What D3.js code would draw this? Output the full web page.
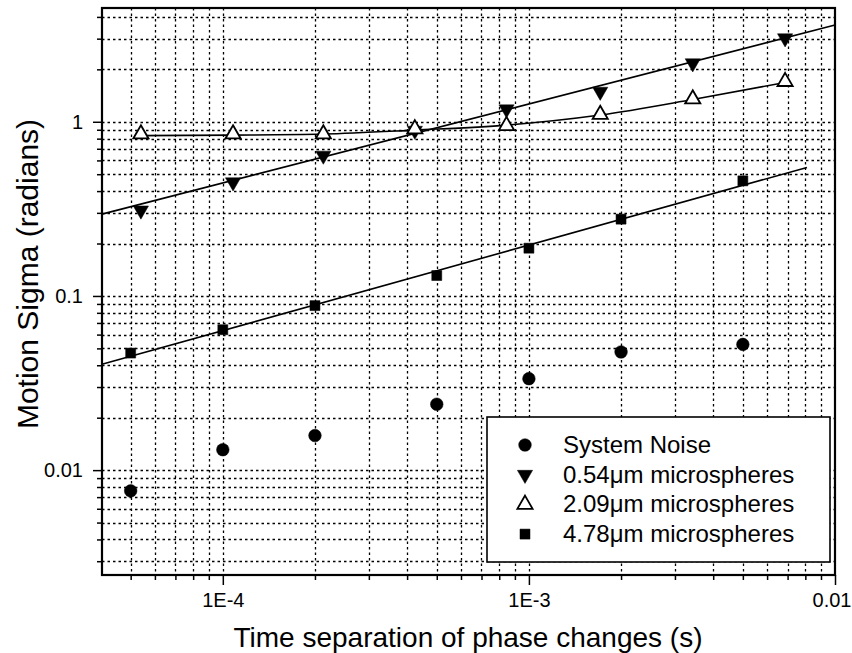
<!DOCTYPE html>
<html>
<head>
<meta charset="utf-8">
<script src="https://cdn.jsdelivr.net/npm/d3@7"></script>
<style>
  body { margin: 0; background: #fff; }
  svg { display: block; }
  text { font-family: "Liberation Sans", Arial, sans-serif; fill: #000; }
</style>
</head>
<body>
<svg id="chart" width="852" height="653"></svg>
<script>
// time separations (s)
var timeNoise = [5e-5, 1e-4, 2e-4, 5e-4, 1e-3, 2e-3, 5e-3];
var timeSpheres = [5.4e-5, 1.08e-4, 2.13e-4, 4.24e-4, 8.45e-4, 1.71e-3, 3.43e-3, 6.87e-3];

// motion sigma (radians)
var sysNoise = [0.0076, 0.0131, 0.0158, 0.0239, 0.0335, 0.0477, 0.0527];
var sph054 = [0.31, 0.45, 0.64, 0.89, 1.18, 1.49, 2.17, 3.02];
var sph209 = [0.85, 0.85, 0.85, 0.91, 0.95, 1.1, 1.35, 1.7];
var sph478 = [0.047, 0.064, 0.088, 0.131, 0.188, 0.276, 0.458];

// fitted curves
var fit054T = [4.03e-5, 1e-2];
var fit054V = [0.295, 3.59];
var fit209T = [5.4e-5, 1.08e-4, 2.13e-4, 4.24e-4, 8.45e-4, 1.71e-3, 3.43e-3, 6.87e-3];
var fit209V = [0.833, 0.838, 0.85, 0.896, 0.957, 1.093, 1.342, 1.68];
var fit478T = [4.03e-5, 8.1e-3];
var fit478V = [0.0405, 0.547];

var xTickVals = [1e-4, 1e-3, 1e-2];
var xTickLabels = ["1E-4", "1E-3", "0.01"];
var yTickVals = [0.01, 0.1, 1];
var yTickLabels = ["0.01", "0.1", "1"];

var legendNames = ["System Noise", "0.54\u03bcm microspheres", "2.09\u03bcm microspheres", "4.78\u03bcm microspheres"];

var LEFT = 102, RIGHT = 835, TOP = 8, BOTTOM = 575;

var svg = d3.select('#chart');

var x = d3.scaleLog().domain([4.03e-5, 0.01]).range([LEFT, RIGHT]);
var y = d3.scaleLog().domain([0.0025, 4.5]).range([BOTTOM, TOP]);

function isMajor(v) {
  var l = Math.log10(v);
  return Math.abs(l - Math.round(l)) < 1e-6;
}

// every 1..9 x 10^n inside the box; the grid skips the ones on the frame
var xAll = x.ticks().filter(function(d){ return d > x.domain()[0] * 1.001 && d <= x.domain()[1] * 1.001; });
var yAll = y.ticks().filter(function(d){ return d > y.domain()[0] * 1.001 && d < y.domain()[1] * 0.999; });
var xGrid = xAll.filter(function(d){ return d < x.domain()[1] * 0.999; });

// dotted grid
var grid = svg.append('g').attr('stroke', '#000').attr('stroke-width', 1.3).attr('stroke-dasharray', '2.5,3');
grid.selectAll('line.gx').data(xGrid).enter().append('line')
  .attr('x1', function(d){ return Math.round(x(d)) + 0.5; })
  .attr('x2', function(d){ return Math.round(x(d)) + 0.5; })
  .attr('y1', TOP).attr('y2', BOTTOM);
grid.selectAll('line.gy').data(yAll).enter().append('line')
  .attr('y1', function(d){ return Math.round(y(d)) + 0.5; })
  .attr('y2', function(d){ return Math.round(y(d)) + 0.5; })
  .attr('x1', LEFT).attr('x2', RIGHT);

// axes
var bottomAxis = d3.axisBottom(x).tickValues(xAll).tickSize(5).tickPadding(13)
  .tickFormat(function(d){ var i = xTickVals.findIndex(function(v){ return Math.abs(v - d) / v < 1e-6; }); return i >= 0 ? xTickLabels[i] : ''; });
var gx = svg.append('g').attr('transform', 'translate(0,' + BOTTOM + ')').call(bottomAxis);
gx.select('.domain').remove();
gx.selectAll('.tick line').attr('stroke-width', 1.5).attr('y2', function(d){ return isMajor(d) ? 10 : 5; });
gx.selectAll('.tick text').style('font-size', '20px');
// last label sits on the right edge, keep it inside the page
gx.selectAll('.tick text').filter(function(d){ return d >= x.domain()[1] * 0.999; })
  .attr('text-anchor', 'end').attr('x', 16);

var leftAxis = d3.axisLeft(y).tickValues(yAll).tickSize(5).tickPadding(7)
  .tickFormat(function(d){ var i = yTickVals.findIndex(function(v){ return Math.abs(v - d) / v < 1e-6; }); return i >= 0 ? yTickLabels[i] : ''; });
var gy = svg.append('g').attr('transform', 'translate(' + LEFT + ',0)').call(leftAxis);
gy.select('.domain').remove();
gy.selectAll('.tick line').attr('stroke-width', 1.5).attr('x2', function(d){ return isMajor(d) ? -9 : -5; });
gy.selectAll('.tick text').attr('x', -19).style('font-size', '20px');

// frame
svg.append('rect').attr('x', LEFT).attr('y', TOP).attr('width', RIGHT - LEFT).attr('height', BOTTOM - TOP)
  .attr('fill', 'none').attr('stroke', '#000').attr('stroke-width', 2.2);

// fitted lines
var line = d3.line().x(function(d){ return x(d[0]); }).y(function(d){ return y(d[1]); });
var curve = d3.line().x(function(d){ return x(d[0]); }).y(function(d){ return y(d[1]); }).curve(d3.curveMonotoneX);
var fits = svg.append('g').attr('fill', 'none').attr('stroke', '#000').attr('stroke-width', 1.6);
fits.append('path').attr('d', line(d3.zip(fit054T, fit054V)));
fits.append('path').attr('d', curve(d3.zip(fit209T, fit209V)));
fits.append('path').attr('d', line(d3.zip(fit478T, fit478V)));

// markers
var circ = d3.symbol().type(d3.symbolCircle).size(125);
var tri = d3.symbol().type(d3.symbolTriangle).size(100);
var sq = d3.symbol().type(d3.symbolSquare).size(100);

function drawMarkers(times, vals, sym, rot, fill) {
  svg.append('g').selectAll('path').data(d3.zip(times, vals)).enter().append('path')
    .attr('d', sym)
    .attr('transform', function(d){ return 'translate(' + x(d[0]) + ',' + y(d[1]) + ') rotate(' + rot + ')'; })
    .attr('fill', fill).attr('stroke', '#000').attr('stroke-width', fill === '#fff' ? 1.8 : 0.5);
}
drawMarkers(timeNoise, sysNoise, circ, 0, '#000');
drawMarkers(timeSpheres, sph054, tri, 180, '#000');
drawMarkers(timeSpheres, sph209, tri, 0, '#fff');
drawMarkers(timeNoise, sph478, sq, 0, '#000');

// legend
var lg = svg.append('g');
lg.append('rect').attr('x', 487).attr('y', 417).attr('width', 343).attr('height', 145)
  .attr('fill', '#fff').attr('stroke', '#000').attr('stroke-width', 1.6);
var legSyms = [[circ, 0, '#000'], [tri, 180, '#000'], [tri, 0, '#fff'], [sq, 0, '#000']];
legendNames.forEach(function(name, i) {
  var ry = 445 + i * 29.7;
  lg.append('path').attr('d', legSyms[i][0])
    .attr('transform', 'translate(525,' + ry + ') rotate(' + legSyms[i][1] + ')')
    .attr('fill', legSyms[i][2]).attr('stroke', '#000').attr('stroke-width', legSyms[i][2] === '#fff' ? 1.8 : 0.5);
  lg.append('text').attr('x', 563).attr('y', ry + 8).style('font-size', '24px').text(name);
});

// axis titles
svg.append('text').attr('x', 468).attr('y', 647).attr('text-anchor', 'middle').style('font-size', '28px')
  .text('Time separation of phase changes (s)');
svg.append('text').attr('transform', 'translate(38,274) rotate(-90)').attr('text-anchor', 'middle').style('font-size', '30px')
  .text('Motion Sigma (radians)');
</script>
</body>
</html>
